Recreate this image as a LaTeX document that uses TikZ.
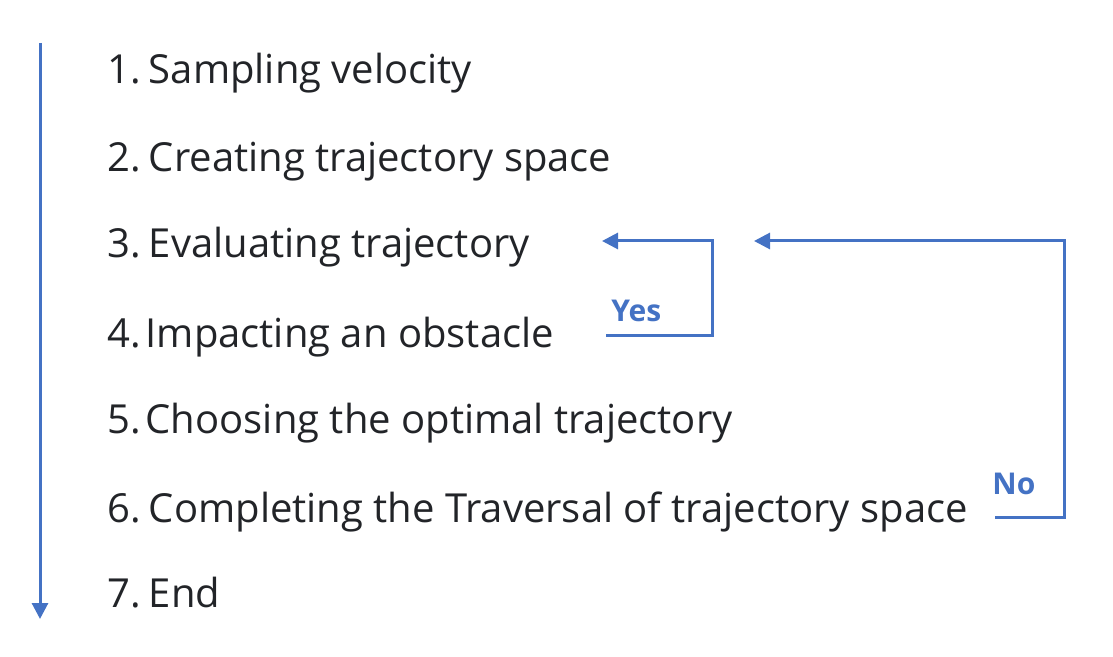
\documentclass[tikz,border=0pt]{standalone}
\usepackage{fontspec}
\setmainfont{Open Sans}
\usetikzlibrary{arrows.meta}
\definecolor{flowblue}{HTML}{4472C4}
\definecolor{txt}{HTML}{222428}
\begin{document}
\begin{tikzpicture}[x=0.5pt,y=-0.5pt,
  steptext/.style={anchor=base west,inner sep=0pt,text=txt,font=\fontsize{20.0}{24}\selectfont},
  answer/.style={anchor=base west,inner sep=0pt,text=flowblue,font=\bfseries\fontsize{15}{18}\selectfont},
  flow/.style={draw=flowblue,line width=1.5pt,-{Triangle[width=8pt,length=8pt]}}]
\useasboundingbox (0,0) rectangle (1113,657);
\node[steptext] (t1) at (107,84) {1.\kern0.2em Sampling velocity};
\node[steptext] (t2) at (107,172) {2.\kern0.2em Creating trajectory space};
\node[steptext] (t3) at (107,258) {3.\kern0.2em Evaluating trajectory};
\node[steptext] (t4) at (107,348) {4.\kern0.12em Impacting an obstacle};
\node[steptext] (t5) at (107,433) {5.\kern0.12em Choosing the optimal trajectory};
\node[steptext] (t6) at (107,522) {6.\kern0.2em Completing the Traversal of trajectory space};
\node[steptext] (t7) at (107,607) {7.\kern0.2em End};
\node[answer] (yes) at (611,322) {Yes};
\node[answer] (no) at (992,494) {No};
% main time axis
\coordinate (axtop) at (40,43);
\coordinate (axend) at (40,619);
\draw[flow] (axtop) -- (axend);
% Yes loop
\coordinate (ys) at (606,336);
\coordinate (yt) at (602,241);
\draw[flow] (ys) -- (712,336) |- (yt);
% No loop
\coordinate (ns) at (995,517);
\coordinate (nt) at (754,241);
\draw[flow] (ns) -- (1064,517) |- (nt);
\end{tikzpicture}
\end{document}
